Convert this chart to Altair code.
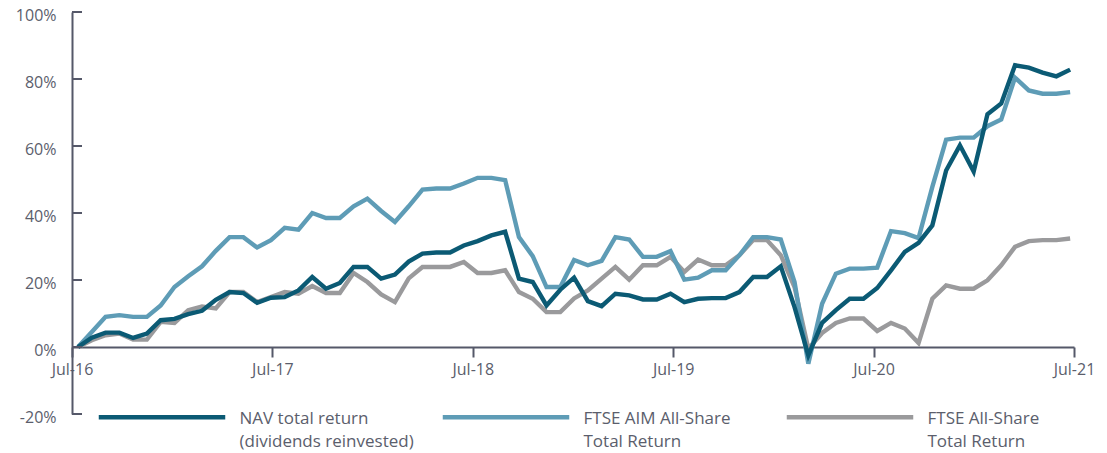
import altair as alt
import pandas as pd

# Observations (percent total return since Jul-16), equally spaced observation points
nav = [0, 2.8, 4.3, 4.3, 2.7, 4.0, 8.0, 8.4, 9.8, 10.8,
       14.1, 16.4, 16.1, 13.2, 14.7, 14.9, 16.9, 20.9, 17.4, 19.1,
       23.9, 23.9, 20.4, 21.6, 25.5, 27.9, 28.2, 28.2, 30.3, 31.6,
       33.3, 34.4, 20.4, 19.4, 12.4, 17.1, 20.7, 13.7, 12.2, 15.9,
       15.4, 14.2, 14.2, 15.9, 13.4, 14.4, 14.6, 14.6, 16.4, 20.9,
       20.9, 24.1, 11.9, -2.5, 7.2, 11.0, 14.4, 14.4, 17.6, 22.9,
       28.4, 31.1, 36.3, 52.7, 60.2, 52.4, 69.5, 72.7, 84.1, 83.4,
       81.9, 80.8, 82.8]
aim = [0, 4.5, 9.0, 9.5, 9.0, 9.0, 12.4, 17.9, 21.1, 24.1,
       28.7, 32.8, 32.8, 29.7, 31.9, 35.6, 35.0, 40.0, 38.5, 38.5,
       42.0, 44.3, 40.6, 37.3, 42.0, 47.0, 47.3, 47.3, 48.8, 50.5,
       50.5, 49.8, 32.8, 27.1, 17.9, 17.9, 26.0, 24.4, 25.7, 32.8,
       32.1, 26.9, 26.9, 28.6, 20.1, 20.7, 22.9, 22.9, 27.4, 32.8,
       32.8, 32.1, 19.4, -5.0, 12.9, 21.9, 23.4, 23.4, 23.7, 34.6,
       34.0, 32.5, 47.8, 61.9, 62.5, 62.5, 65.9, 67.9, 80.4, 76.6,
       75.6, 75.6, 76.1]
allshare = [0, 2.0, 3.5, 4.0, 2.2, 2.2, 7.5, 7.2, 11.0, 12.1,
            11.5, 16.4, 16.4, 13.4, 14.9, 16.4, 15.9, 18.2, 16.1, 16.1,
            22.1, 19.4, 15.7, 13.4, 20.5, 23.9, 23.9, 23.9, 25.4, 22.1,
            22.1, 22.9, 16.4, 14.4, 10.4, 10.4, 14.5, 16.9, 20.4, 23.9,
            20.1, 24.4, 24.4, 26.9, 22.4, 26.1, 24.4, 24.4, 27.4, 31.9,
            31.9, 27.4, 17.9, -0.5, 4.2, 7.2, 8.5, 8.5, 4.8, 7.2,
            5.5, 1.2, 14.4, 18.4, 17.4, 17.4, 19.9, 24.4, 29.9, 31.6,
            31.9, 31.9, 32.4]

series_names = ["NAV total return|(dividends reinvested)",
                "FTSE AIM All-Share|Total Return",
                "FTSE All-Share|Total Return"]
series_colors = ["#0b5a74", "#5e9cb6", "#9a9a9c"]
x_tick_labels = ["Jul-16", "Jul-17", "Jul-18", "Jul-19", "Jul-20", "Jul-21"]
y_ticks = [-20, 0, 20, 40, 60, 80, 100]

rows = []
for name, vals in zip(series_names, [nav, aim, allshare]):
    for i, v in enumerate(vals):
        rows.append({"series": name, "obs": i, "value": v})
df = pd.DataFrame(rows)

# x axis: observation index; year ticks evenly spaced across the domain
x0, x1 = -0.435, 72.28
step = (x1 - x0) / 5
x_ticks = [x0 + k * step for k in range(6)]
label_js = "[" + ",".join("'%s'" % s for s in x_tick_labels) + "]"

FONT = "Open Sans"
TXT = "#5b5e6c"
AX = "#555869"

xscale = alt.Scale(domain=[x0, x1], nice=False, zero=False)
yscale = alt.Scale(domain=[-20, 100], nice=False)
color = alt.Color(
    "series:N",
    scale=alt.Scale(domain=series_names, range=series_colors),
    legend=alt.Legend(
        title=None, orient="none", direction="horizontal",
        legendX=24.5, legendY=333,
        labelExpr="split(datum.label, '|')",
        labelFont=FONT, labelFontSize=17, labelColor=TXT, labelLimit=400,
        symbolType="M-1,0.1L1,0.1", symbolSize=16000, symbolStrokeWidth=4.5,
        labelOffset=12, columnPadding=19, gridAlign="all",
        labelBaseline="top",
    ),
)

y_axis = alt.Axis(values=y_ticks, title=None, grid=False, ticks=False,
                  labelExpr="datum.value + '%'", labelOffset=3,
                  domainColor=AX, domainWidth=2, labelPadding=16,
                  labelFont=FONT, labelFontSize=16, labelColor=TXT)

base = alt.Chart(df)
x_enc = alt.X("obs:Q", scale=xscale,
              axis=alt.Axis(values=x_ticks, title=None, grid=False,
                            labelExpr=label_js + "[round((datum.value - (%f)) / %f)]" % (x0, step),
                            offset=-67, tickSize=10, tickWidth=2, tickColor=AX,
                            domainColor=AX, domainWidth=2, labelPadding=4,
                            labelFlush=False,
                            labelFont=FONT, labelFontSize=16, labelColor=TXT))
y_enc = alt.Y("value:Q", scale=yscale, axis=y_axis)

layers = []
for name in [series_names[2], series_names[1], series_names[0]]:
    layers.append(
        base.transform_filter(alt.datum.series == name)
        .mark_line(strokeWidth=4.4)
        .encode(x=x_enc, y=y_enc, color=color)
    )

tick_df = pd.DataFrame({"value": y_ticks})
yticks_layer = alt.Chart(tick_df).mark_rule(color=AX, strokeWidth=2).encode(
    y=alt.Y("value:Q", scale=yscale, axis=y_axis),
    x=alt.value(0), x2=alt.value(10),
)

chart = alt.layer(*layers, yticks_layer).properties(
    width=1002, height=402,
    autosize=alt.AutoSizeParams(type="none"),
    padding={"left": 72, "top": 12, "right": 33, "bottom": 39},
).configure(
    font=FONT,
    view=alt.ViewConfig(stroke=None),
    style={"guide-label": {"lineHeight": 22.7}},
)

chart.save("out.html", embed_options={"renderer": "svg", "actions": False})
